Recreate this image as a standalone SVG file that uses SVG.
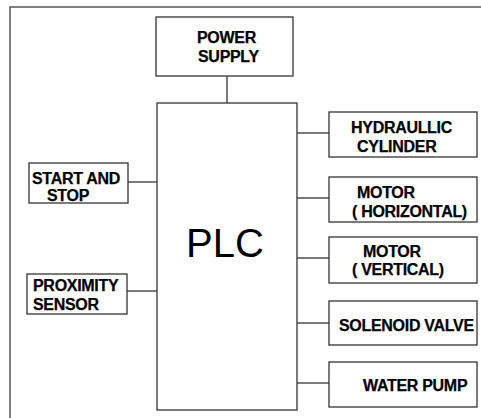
<svg xmlns="http://www.w3.org/2000/svg" width="481" height="418" viewBox="0 0 481 418">
<style>
.box{fill:#fff;stroke:#333;stroke-width:1.3}
.lbl{font-family:"Liberation Sans",Arial,sans-serif;font-size:16px;font-weight:bold;letter-spacing:-0.3px;fill:#000;stroke:#000;stroke-width:0.25}
.big{font-family:"Liberation Sans",Arial,sans-serif;font-size:40px;fill:#000}
.con{stroke:#333;stroke-width:1.3;fill:none}
</style>
<rect x="0" y="0" width="481" height="418" fill="#fff"/>
<path d="M10,418 V7 H481" fill="none" stroke="#555" stroke-width="1.5"/>
<g id="connectors">
<line class="con" x1="227" y1="76" x2="227" y2="103"/>
<line class="con" x1="297" y1="133" x2="329" y2="133"/>
<line class="con" x1="297" y1="198" x2="329" y2="198"/>
<line class="con" x1="297" y1="258" x2="329" y2="258"/>
<line class="con" x1="297" y1="323" x2="329" y2="323"/>
<line class="con" x1="297" y1="383" x2="329" y2="383"/>
<line class="con" x1="128" y1="182" x2="157" y2="182"/>
<line class="con" x1="127" y1="291" x2="157" y2="291"/>
</g>
<g id="power">
<rect class="box" x="156" y="17" width="137" height="59"/>
<text class="lbl" x="197" y="42.7">POWER</text>
<text class="lbl" x="198" y="62">SUPPLY</text>
</g>
<g id="plc">
<rect class="box" x="157" y="103" width="140" height="307"/>
<text class="big" x="225" y="256.5" text-anchor="middle">PLC</text>
</g>
<g id="hydraulic">
<rect class="box" x="329" y="112" width="148" height="45"/>
<text class="lbl" x="351" y="133">HYDRAULLIC</text>
<text class="lbl" x="357" y="152">CYLINDER</text>
</g>
<g id="motor-h">
<rect class="box" x="329" y="177" width="148" height="45"/>
<text class="lbl" x="357" y="197.5">MOTOR</text>
<text class="lbl" x="352" y="216.5">( HORIZONTAL)</text>
</g>
<g id="motor-v">
<rect class="box" x="329" y="237" width="148" height="46"/>
<text class="lbl" x="363" y="256.5">MOTOR</text>
<text class="lbl" x="352" y="274.5">( VERTICAL)</text>
</g>
<g id="solenoid">
<rect class="box" x="329" y="301" width="148" height="44"/>
<text class="lbl" x="339" y="330.7">SOLENOID VALVE</text>
</g>
<g id="pump">
<rect class="box" x="329" y="362" width="148" height="45"/>
<text class="lbl" x="363" y="390.7">WATER PUMP</text>
</g>
<g id="startstop">
<rect class="box" x="29" y="163" width="99" height="40"/>
<text class="lbl" x="32" y="183.5">START AND</text>
<text class="lbl" x="47" y="200.5">STOP</text>
</g>
<g id="proximity">
<rect class="box" x="27" y="274" width="100" height="40"/>
<text class="lbl" x="33" y="290.5">PROXIMITY</text>
<text class="lbl" x="33" y="309.5">SENSOR</text>
</g>
</svg>
